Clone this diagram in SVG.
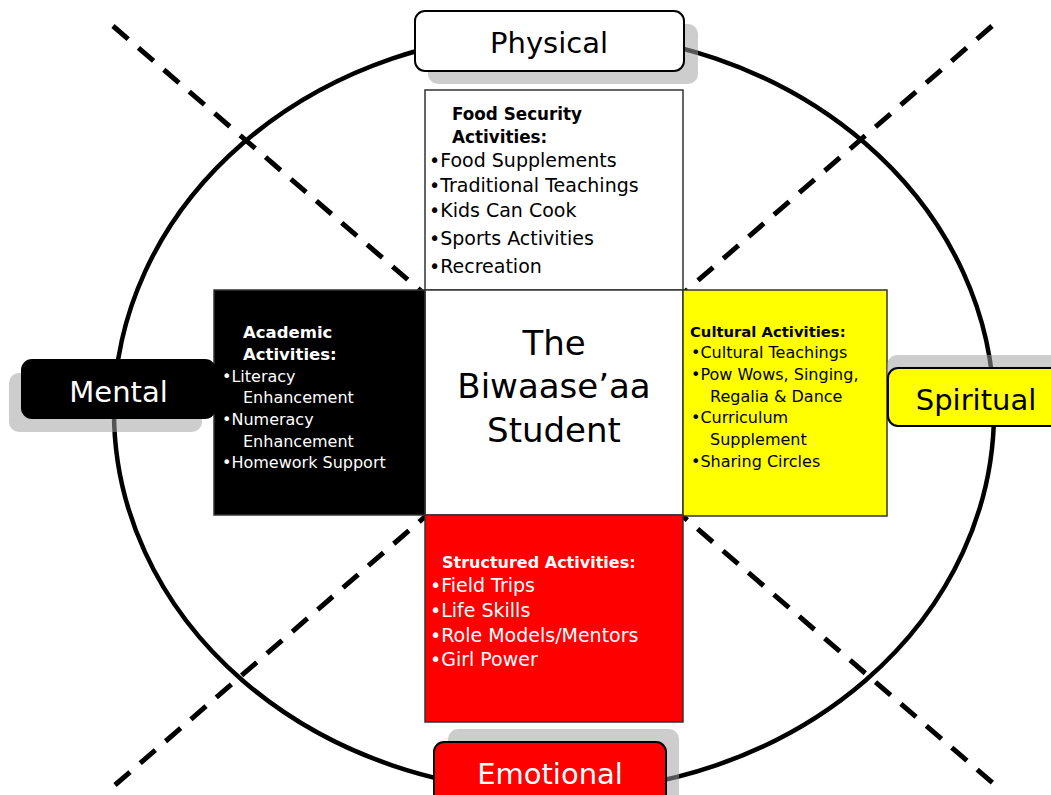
<svg xmlns="http://www.w3.org/2000/svg" width="1051" height="795" viewBox="0 0 1051 795">
<style>
text{font-family:"DejaVu Sans","Liberation Sans",sans-serif}
.ring{fill:none;stroke:#000;stroke-width:4.5}
.dash{stroke:#000;stroke-width:5;stroke-dasharray:20 13.53;fill:none}
.shadow{fill:#a0a0a0;fill-opacity:0.53}
.label{stroke:#000;stroke-width:2}
.panel{stroke:#333;stroke-width:1.5}
.big{font-size:29px}
.center{font-size:34px;text-anchor:middle}
.b{font-weight:bold}
.w{fill:#fff}
</style>
<rect width="1051" height="795" fill="#fff"/>
<g id="connectors">
<ellipse class="ring" cx="554" cy="412" rx="440" ry="380"/>
<line class="dash" x1="113" y1="26" x2="994" y2="784"/>
<line class="dash" x1="992" y1="26" x2="115" y2="785"/>
</g>
<g id="food-security">
<rect class="panel" x="425" y="90" width="258" height="200" fill="#fff"/>
<text class="b" font-size="16.8" x="452" y="120">Food Security</text>
<text class="b" font-size="16.8" x="452" y="143">Activities:</text>
<g font-size="19">
<text x="429" y="167">•Food Supplements</text>
<text x="429" y="192">•Traditional Teachings</text>
<text x="429" y="217">•Kids Can Cook</text>
<text x="429" y="245">•Sports Activities</text>
<text x="429" y="273">•Recreation</text>
</g>
</g>
<g id="center">
<rect class="panel" x="425" y="290" width="258" height="225" fill="#fff"/>
<text class="center" x="554" y="355">The</text>
<text class="center" x="554" y="398">Biwaase’aa</text>
<text class="center" x="554" y="442">Student</text>
</g>
<g id="academic">
<rect class="panel" x="214" y="290" width="211" height="225" fill="#000"/>
<text class="b w" font-size="16.5" x="243" y="338">Academic</text>
<text class="b w" font-size="16.5" x="243" y="360">Activities:</text>
<g class="w" font-size="16">
<text x="222" y="382">•Literacy</text>
<text x="243" y="403">Enhancement</text>
<text x="222" y="425">•Numeracy</text>
<text x="243" y="447">Enhancement</text>
<text x="222" y="468">•Homework Support</text>
</g>
</g>
<g id="cultural">
<rect class="panel" x="683" y="290" width="204" height="226" fill="#ff0"/>
<text class="b" font-size="14.8" x="690" y="337">Cultural Activities:</text>
<g font-size="16">
<text x="691" y="358">•Cultural Teachings</text>
<text x="691" y="380">•Pow Wows, Singing,</text>
<text x="710" y="402">Regalia &amp; Dance</text>
<text x="691" y="423">•Curriculum</text>
<text x="710" y="445">Supplement</text>
<text x="691" y="467">•Sharing Circles</text>
</g>
</g>
<g id="structured">
<rect class="panel" x="425" y="515" width="258" height="207" fill="#f00"/>
<text class="b w" font-size="16" x="442" y="568">Structured Activities:</text>
<g class="w" font-size="19">
<text x="430" y="592">•Field Trips</text>
<text x="430" y="617">•Life Skills</text>
<text x="430" y="642">•Role Models/Mentors</text>
<text x="430" y="666">•Girl Power</text>
</g>
</g>
<g id="physical">
<rect class="shadow" x="428" y="24" width="270" height="60" rx="10"/>
<rect class="label" x="415" y="11" width="269" height="60" rx="10" fill="#fff"/>
<text class="big" x="549" y="53" text-anchor="middle">Physical</text>
</g>
<g id="mental">
<rect class="shadow" x="9" y="373" width="193" height="59" rx="10"/>
<rect class="label" x="22" y="360" width="193" height="58" rx="10" fill="#000"/>
<text class="big w" font-size="30" x="118.5" y="402" text-anchor="middle">Mental</text>
</g>
<g id="spiritual">
<rect class="shadow" x="887" y="355" width="180" height="58" rx="10"/>
<rect class="label" x="888" y="368" width="180" height="58" rx="10" fill="#ff0"/>
<text class="big" font-size="28" x="976" y="410" text-anchor="middle">Spiritual</text>
</g>
<g id="emotional">
<rect class="shadow" x="448" y="729" width="231" height="80" rx="10"/>
<rect class="label" x="434" y="742" width="232" height="70" rx="10" fill="#f00"/>
<text class="big w" x="550" y="784" text-anchor="middle">Emotional</text>
</g>
</svg>
